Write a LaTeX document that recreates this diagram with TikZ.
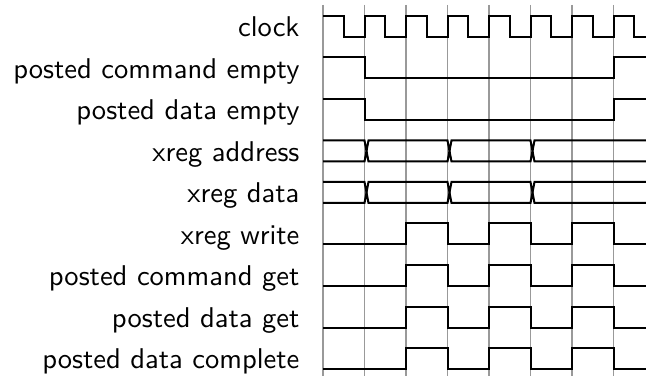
\documentclass[tikz,border=0pt]{standalone}
\tikzset{
  sig/.style={line width=0.7pt, line join=miter},
  gridline/.style={line width=0.4pt, black!40},
  lbl/.style={anchor=base east, inner sep=0pt, font=\sffamily}
}
\begin{document}
\begin{tikzpicture}[x=0.35pt,y=-0.35pt]
\useasboundingbox (0,0) rectangle (646,376);

% clock-edge grid
\foreach \k in {0,...,7}
  \draw[gridline] ({323+41.5*\k},5) -- ({323+41.5*\k},376);

% signal names
\node[lbl] (n1) at (300,37)    {clock};
\node[lbl] (n2) at (300,78.5)  {posted command empty};
\node[lbl] (n3) at (300,120)   {posted data empty};
\node[lbl] (n4) at (300,161.5) {xreg address};
\node[lbl] (n5) at (300,203)   {xreg data};
\node[lbl] (n6) at (300,244.5) {xreg write};
\node[lbl] (n7) at (300,286)   {posted command get};
\node[lbl] (n8) at (300,327.5) {posted data get};
\node[lbl] (n9) at (300,369)   {posted data complete};

% clock
\draw[sig] (323,16)
  \foreach \i in {0,...,6} { -- ++(20.75,0) -- ++(0,21) -- ++(20.75,0) -- ++(0,-21) }
  -- ++(20.75,0) -- ++(0,21) -- (646,37);

% empty flags
\foreach \t in {57.5,99} {
  \draw[sig] (323,\t) -- (364.5,\t) -- (364.5,\t+21) -- (613.5,\t+21)
    -- (613.5,\t) -- (646,\t);
}

% address / data buses
\foreach \t in {140.5,182} {
  \draw[sig] (323,\t) -- (364.5,\t) -- (366.5,\t+10.5) -- (368.5,\t)
    -- (447.5,\t) -- (449.5,\t+10.5) -- (451.5,\t)
    -- (530.5,\t) -- (532.5,\t+10.5) -- (534.5,\t) -- (646,\t);
  \draw[sig] (323,\t+21) -- (364.5,\t+21) -- (366.5,\t+10.5) -- (368.5,\t+21)
    -- (447.5,\t+21) -- (449.5,\t+10.5) -- (451.5,\t+21)
    -- (530.5,\t+21) -- (532.5,\t+10.5) -- (534.5,\t+21) -- (646,\t+21);
}

% write / get / complete strobes
\foreach \t in {223.5,265,306.5,348} {
  \draw[sig] (323,\t+21) -- (406,\t+21) -- (406,\t) -- (447.5,\t)
    -- (447.5,\t+21) -- (489,\t+21) -- (489,\t) -- (530.5,\t)
    -- (530.5,\t+21) -- (572,\t+21) -- (572,\t) -- (613.5,\t)
    -- (613.5,\t+21) -- (646,\t+21);
}
\end{tikzpicture}
\end{document}
